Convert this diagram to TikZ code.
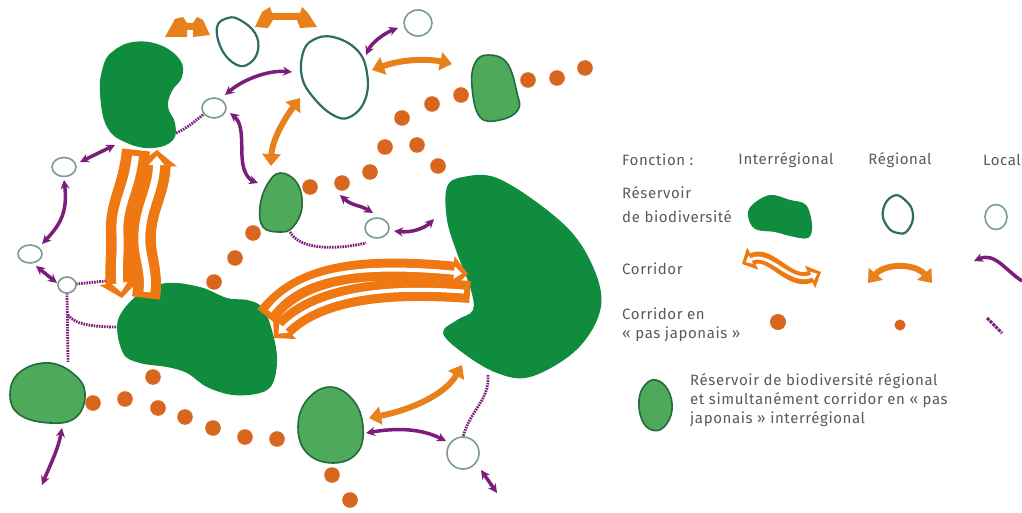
\documentclass[tikz,border=0pt]{standalone}
\usepackage{fontspec}
\setmainfont{Fira Sans}[LetterSpace=4]
\usetikzlibrary{arrows.meta}
\definecolor{dkg}{HTML}{108C3E}
\definecolor{mdg}{HTML}{4EA95A}
\definecolor{mdgline}{HTML}{236B3A}
\definecolor{regline}{HTML}{2E6E60}
\definecolor{locline}{HTML}{7A9A94}
\definecolor{corO}{HTML}{EF7812}
\definecolor{regO}{HTML}{E8801C}
\definecolor{dotO}{HTML}{D9661E}
\definecolor{purp}{HTML}{7B1E7B}
\definecolor{txt}{HTML}{5A5A5A}
\tikzset{
  bigres/.style={fill=dkg},
  medres/.style={fill=mdg, draw=mdgline, line width=1.6pt},
  regres/.style={fill=white, draw=regline, line width=2.2pt},
  locres/.style={fill=white, draw=locline, line width=1.6pt},
  irO/.style={draw=corO, line width=28pt, -{Triangle[length=16pt,width=40pt]}},
  irW/.style={draw=white, line width=7pt, shorten >=6pt, shorten <=6pt, -{Triangle[length=9pt,width=15pt]}},
  irOl/.style={draw=corO, line width=12pt, {Triangle[length=12pt,width=24pt]}-{Triangle[length=12pt,width=24pt]}},
  irWl/.style={draw=white, line width=3pt, shorten >=4pt, shorten <=4pt, {Triangle[length=6pt,width=9pt]}-{Triangle[length=6pt,width=9pt]}},
  regcor/.style={draw=regO, line width=6pt, {Triangle[length=12pt,width=18pt]}-{Triangle[length=12pt,width=18pt]}},
  loccor/.style={draw=purp, line width=3.5pt, {Stealth[length=9pt,width=9pt]}-{Stealth[length=9pt,width=9pt]}},
  locpj/.style={draw=purp, line width=2.8pt, dash pattern=on 1.6pt off 1pt},
  dot/.style={fill=dotO},
  lbl/.style={text=txt, font=\fontsize{15}{17}\selectfont, inner sep=0pt},
}
\begin{document}
\begin{tikzpicture}[x=1pt,y=-1pt]
\useasboundingbox (0,0) rectangle (1022,513);
\fill[white] (0,0) rectangle (1022,513);

% ---------- dots (pas japonais) ----------
\foreach \p in {(585,68),(557,78),(528,80),(461,95),(432,104),(402,118),(385,147),(417,145),(438,166),(370,172),(342,183),(310,187),(253,233),(235,258),(214,282),(153,377),(93,403),(125,399),(158,408),(185,417),(213,428),(245,437),(277,439),(332,475),(350,500)}
  \fill[dot] \p circle[radius=7.8pt];

% ---------- local pas japonais (purple dotted) ----------
\draw[locpj] (176,133) .. controls (188,128) and (196,120) .. (204,114);
\draw[locpj] (290,232) .. controls (300,250) and (335,250) .. (366,243);
\draw[locpj] (76,284) -- (106,281);
\draw[locpj] (67,293) -- (68,362);
\draw[locpj] (68,315) .. controls (75,325) and (95,327) .. (119,327);
\draw[locpj] (488,375) .. controls (490,400) and (470,410) .. (463,437);

% ---------- interregional reservoirs ----------
\fill[bigres] plot[smooth cycle, tension=0.7] coordinates {(103,67) (112,52) (133,42) (160,45) (180,60) (182,77) (172,91) (168,107) (175,123) (173,140) (153,148) (127,143) (107,127) (100,93)};
\fill[bigres] plot[smooth cycle, tension=0.6] coordinates {(118,320) (140,293) (167,283) (200,287) (227,298) (247,300) (262,307) (271,327) (277,357) (273,383) (260,393) (233,395) (207,387) (187,373) (167,367) (140,363) (123,353)};
\fill[bigres] plot[smooth cycle, tension=0.6] coordinates {(447,187) (463,177) (497,178) (547,210) (580,243) (600,287) (597,320) (573,353) (530,377) (497,373) (463,353) (443,333) (457,320) (473,310) (470,287) (457,253) (447,220)};

% ---------- regional reservoirs + pas japonais ----------
\draw[medres] plot[smooth cycle, tension=0.7] coordinates {(280,173) (297,183) (302,207) (293,227) (280,232) (263,227) (260,207) (267,185)};
\draw[medres] plot[smooth cycle, tension=0.7] coordinates {(488,55) (507,63) (517,93) (518,110) (500,120) (480,117) (472,87) (475,63)};
\draw[medres] plot[smooth cycle, tension=0.7] coordinates {(50,363) (77,377) (85,397) (75,418) (50,423) (20,415) (10,395) (20,372)};
\draw[medres] plot[smooth cycle, tension=0.7] coordinates {(330,387) (353,400) (363,427) (357,453) (333,463) (307,453) (298,427) (307,400)};

% ---------- regional reservoirs ----------
\draw[regres] plot[smooth cycle, tension=0.7] coordinates {(217,27) (228,18) (240,20) (255,33) (258,50) (250,63) (237,65) (222,50)};
\draw[regres] plot[smooth cycle, tension=0.7] coordinates {(313,40) (333,37) (357,50) (367,73) (365,100) (350,117) (333,115) (313,97) (302,77) (303,53)};

% ---------- local reservoirs ----------
\draw[locres] (418,23) ellipse [x radius=14pt, y radius=13pt];
\draw[locres] (214,108) ellipse [x radius=12pt, y radius=10pt];
\draw[locres] (64,167) ellipse [x radius=12pt, y radius=9.5pt];
\draw[locres] (30,254) ellipse [x radius=12pt, y radius=9pt];
\draw[locres] (67,285) ellipse [x radius=9pt, y radius=8pt];
\draw[locres] (377,228) ellipse [x radius=12pt, y radius=10pt];
\draw[locres] (463,453) ellipse [x radius=16pt, y radius=16pt];

% ---------- interregional corridors ----------
\draw[irO] (136,150) .. controls (132,190) and (118,205) .. (120,235) .. controls (121,255) and (118,270) .. (122,298);
\draw[irO] (146,298) .. controls (150,270) and (140,255) .. (142,232) .. controls (144,205) and (156,190) .. (157,150);
\draw[irW] (136,150) .. controls (132,190) and (118,205) .. (120,235) .. controls (121,255) and (118,270) .. (122,298);
\draw[irW] (146,298) .. controls (150,270) and (140,255) .. (142,232) .. controls (144,205) and (156,190) .. (157,150);
\draw[irO, line width=22pt, -{Triangle[length=15pt,width=32pt]}] (266,316) .. controls (300,272) and (360,264) .. (468,274);
\draw[irO, line width=22pt, -{Triangle[length=15pt,width=32pt]}] (470,292) .. controls (390,286) and (320,292) .. (274,338);
\draw[irW, line width=4pt, -{Triangle[length=8pt,width=12pt]}] (266,316) .. controls (300,272) and (360,264) .. (468,274);
\draw[irW, line width=4pt, -{Triangle[length=8pt,width=12pt]}] (470,292) .. controls (390,286) and (320,292) .. (274,338);

% ---------- regional corridors ----------
\fill[regO] (165,37) -- (175,19) -- (183,17) -- (187,23) -- (193,23) -- (197,17) -- (203,20) -- (210,35) -- (193,37) -- (193,30) -- (187,30) -- (187,37) -- cycle;
\fill[regO] (255,27) -- (262,12) -- (270,7) -- (272,13) -- (300,13) -- (302,7) -- (308,13) -- (317,27) -- (300,28) -- (297,20) -- (273,20) -- (268,28) -- cycle;
\draw[regcor] (372,70) .. controls (400,60) and (425,58) .. (452,64);
\draw[regcor] (300,98) .. controls (285,118) and (272,140) .. (271,166);
\draw[regcor] (369,418) .. controls (410,410) and (445,395) .. (462,365);

% ---------- local corridors ----------
\draw[loccor] (115,145) -- (80,162);
\draw[loccor] (64,180) .. controls (68,212) and (60,225) .. (42,244);
\draw[loccor] (36,266) -- (57,283);
\draw[loccor] (225,95) .. controls (245,78) and (270,70) .. (292,72);
\draw[loccor] (230,113) .. controls (245,125) and (240,150) .. (243,165) .. controls (245,175) and (250,180) .. (258,183);
\draw[loccor] (398,28) .. controls (385,33) and (372,42) .. (366,55);
\draw[loccor] (340,195) .. controls (352,206) and (360,205) .. (373,213);
\draw[loccor] (394,231) .. controls (412,233) and (425,228) .. (434,219);
\draw[loccor] (366,433) .. controls (395,428) and (420,428) .. (446,441);
\draw[loccor] (481,470) -- (497,493);
\draw[loccor] (62,428) .. controls (58,450) and (50,465) .. (42,485);

% ---------- legend ----------
\node[lbl, anchor=west] (fonction) at (622,160) {Fonction :};
\node[lbl] (hinter) at (786,160) {Interrégional};
\node[lbl] (hreg) at (900,160) {Régional};
\node[lbl, anchor=east] (hloc) at (1021,160) {Local};
\node[lbl, anchor=west] (res1) at (622,193) {Réservoir};
\node[lbl, anchor=west] (res2) at (622,217) {de biodiversité};
\node[lbl, anchor=west] (cor) at (622,269) {Corridor};
\node[lbl, anchor=west] (pj1) at (622,314) {Corridor en};
\node[lbl, anchor=west] (pj2) at (622,334) {«~pas japonais~»};
\node[lbl, anchor=west] (par1) at (690,381) {Réservoir de biodiversité régional};
\node[lbl, anchor=west] (par2) at (690,400) {et simultanément corridor en «~pas};
\node[lbl, anchor=west] (par3) at (690,419) {japonais~» interrégional};

\fill[bigres] plot[smooth cycle, tension=0.6] coordinates {(752,205) (770,195) (790,200) (806,205) (812,225) (808,238) (790,236) (775,232) (755,229) (748,216)};
\draw[regres] plot[smooth cycle, tension=0.8] coordinates {(893,196) (905,200) (913,214) (908,230) (898,233) (887,226) (883,210)};
\draw[locres] (996,217) ellipse [x radius=11pt, y radius=12.5pt];

\draw[irOl] (742,264) .. controls (770,250) and (790,286) .. (821,272);
\draw[irWl] (742,264) .. controls (770,250) and (790,286) .. (821,272);
\draw[regcor] (868,283) .. controls (885,263) and (915,263) .. (932,283);
\draw[purp, line width=3.5pt, {Stealth[length=9pt,width=9pt]}-] (974,261) .. controls (995,252) and (1005,270) .. (1022,281);

\fill[dot] (778,322) circle[radius=8pt];
\fill[dot] (900,325) circle[radius=5.5pt];
\draw[locpj, line width=3pt, dash pattern=on 3pt off 1pt] (987,318) -- (1002,333);

\draw[medres] plot[smooth cycle, tension=0.7] coordinates {(656,380) (668,390) (672,410) (664,427) (652,430) (642,420) (639,400) (645,385)};
\end{tikzpicture}
\end{document}
